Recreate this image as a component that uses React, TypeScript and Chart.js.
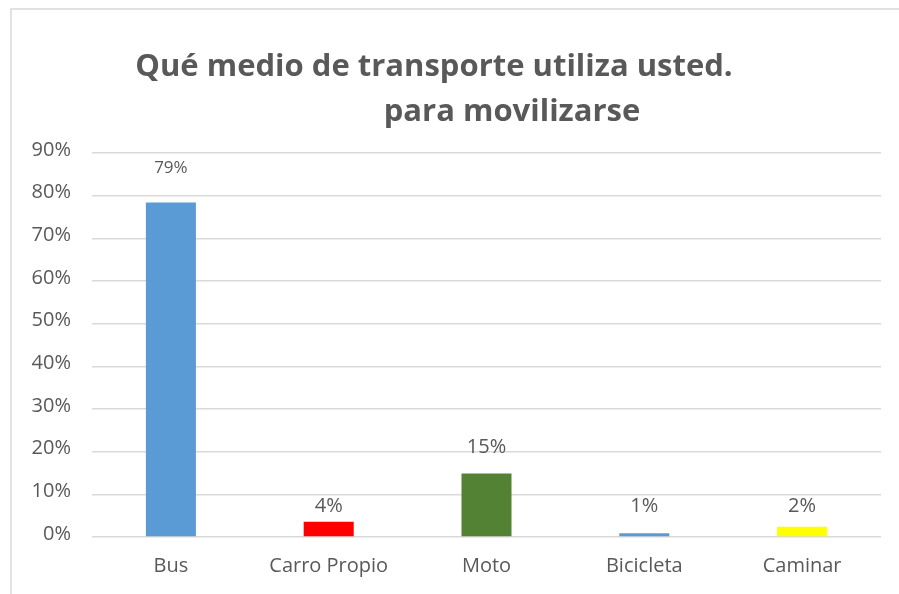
import React, { useEffect, useRef } from "react";
import { Chart, registerables } from "chart.js";

Chart.register(...registerables);

const categories = ["Bus", "Carro Propio", "Moto", "Bicicleta", "Caminar"];
const values = [78.4, 3.6, 14.9, 0.9, 2.4];
const valueLabels = ["79%", "4%", "15%", "1%", "2%"];
const labelPositions = [86.5, 7.3, 21.1, 7.3, 7.3];
const labelSizes = [17, 20, 20, 20, 20];
const barColors = ["#5b9bd5", "#ff0000", "#548235", "#5b9bd5", "#ffff00"];
const titleLines = ["Qué medio de transporte utiliza usted.", "para movilizarse"];

const FONT = "'Open Sans', sans-serif";
const TEXT = "#595959";

const decorPlugin = {
  id: "decor",
  beforeDraw(chart: any) {
    const ctx = chart.ctx;
    ctx.save();
    ctx.strokeStyle = "#d9d9d9";
    ctx.lineWidth = 1.5;
    ctx.beginPath();
    ctx.moveTo(11, chart.height + 5);
    ctx.lineTo(11, 9);
    ctx.lineTo(chart.width + 5, 9);
    ctx.stroke();
    ctx.restore();
  },
  afterDraw(chart: any) {
    const ctx = chart.ctx;
    const xs = chart.scales.x;
    const ys = chart.scales.y;
    ctx.save();
    ctx.fillStyle = TEXT;
    ctx.textBaseline = "middle";
    ctx.textAlign = "center";
    ctx.font = `bold 31px ${FONT}`;
    ctx.fillText(titleLines[0], 434, 67);
    ctx.fillText(titleLines[1], 512, 112);
    valueLabels.forEach((t, i) => {
      ctx.font = `${labelSizes[i]}px ${FONT}`;
      ctx.fillText(t, xs.getPixelForValue(i), ys.getPixelForValue(labelPositions[i]));
    });
    ctx.restore();
  },
};

export default function App() {
  const ref = useRef<HTMLCanvasElement | null>(null);
  useEffect(() => {
    document.body.style.margin = "0";
    const chart = new Chart(ref.current!, {
      type: "bar",
      data: {
        labels: categories,
        datasets: [
          {
            data: values,
            backgroundColor: barColors,
            barPercentage: 0.317,
            categoryPercentage: 1,
          },
        ],
      },
      options: {
        animation: false,
        responsive: false,
        layout: { padding: { top: 153, right: 18, left: 0, bottom: 0 } },
        plugins: { legend: { display: false }, tooltip: { enabled: false }, title: { display: false } },
        scales: {
          x: {
            grid: { display: false, drawTicks: false },
            border: { display: false },
            ticks: { color: TEXT, font: { family: FONT, size: 20 }, padding: 17 },
            afterFit: (s: any) => { s.height = 57; },
          },
          y: {
            min: 0,
            max: 90,
            grid: { color: "#d9d9d9", lineWidth: 1.5, drawTicks: false },
            border: { display: false },
            ticks: {
              stepSize: 10,
              color: TEXT,
              font: { family: FONT, size: 20 },
              padding: 21,
              labelOffset: -3,
              callback: (v: any) => v + "%",
            },
            afterFit: (s: any) => { s.width = 92; },
          },
        },
      },
      plugins: [decorPlugin],
    });
    return () => chart.destroy();
  }, []);
  return (
    <div style={{ position: "absolute", left: 0, top: 0, width: 899, height: 594, background: "#fff" }}>
      <canvas ref={ref} width={899} height={594} />
    </div>
  );
}
